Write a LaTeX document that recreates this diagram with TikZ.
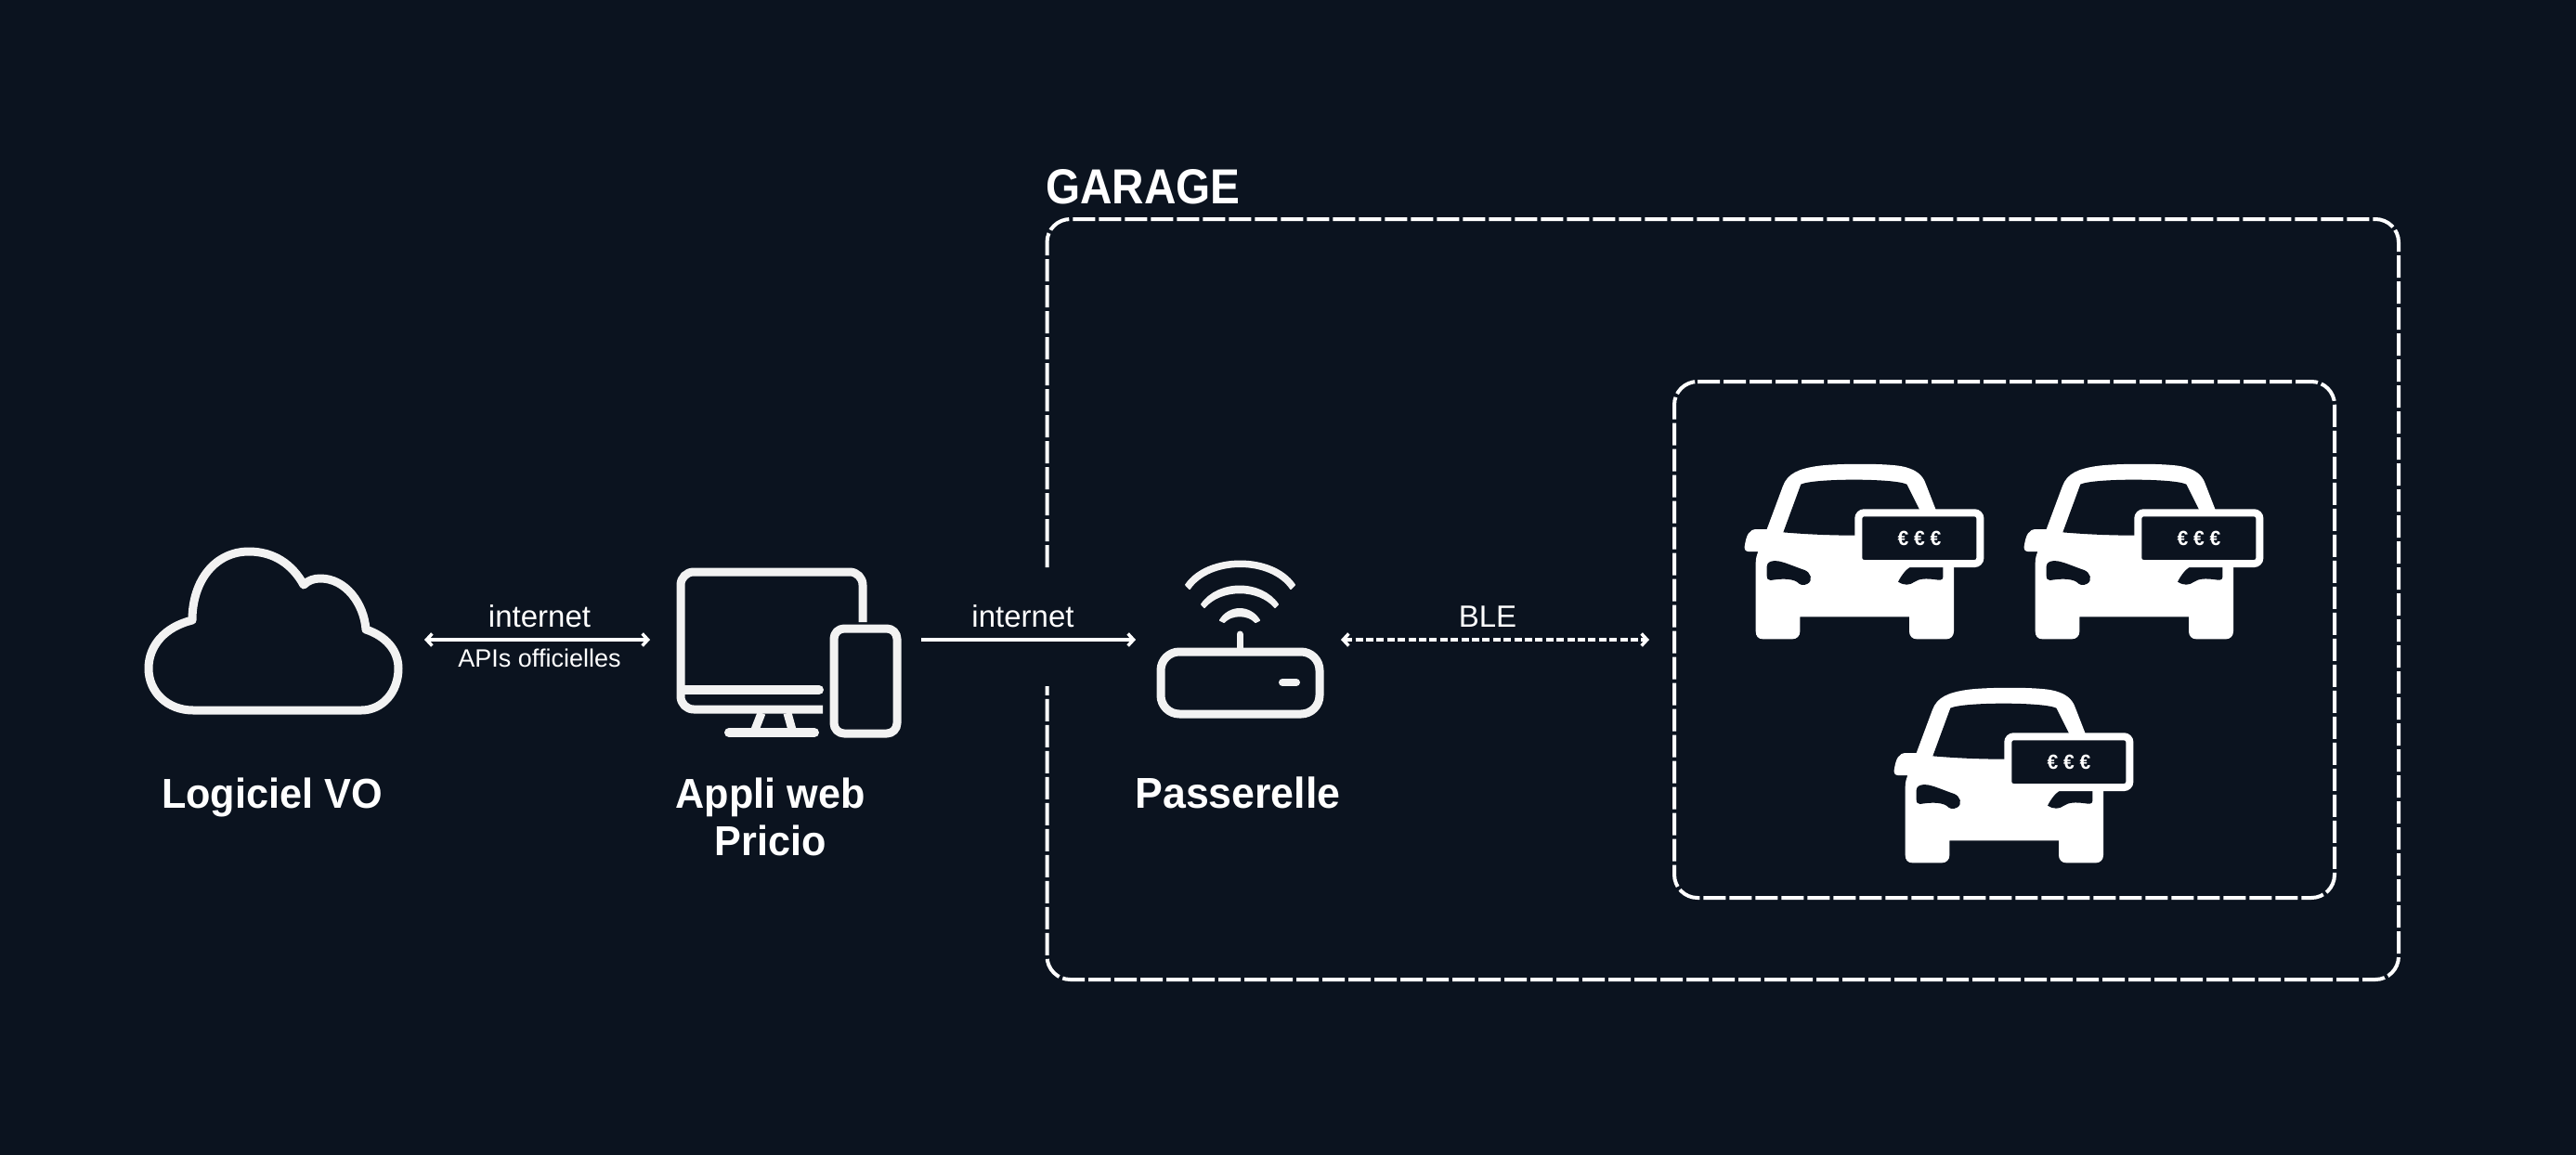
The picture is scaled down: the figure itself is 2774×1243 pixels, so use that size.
\documentclass[tikz,border=0pt]{standalone}
\usepackage{fontspec}
\usetikzlibrary{arrows.meta}
\setmainfont{Liberation Sans}
\newfontfamily\boldf[FakeStretch=0.96]{Liberation Sans Bold}
\newfontfamily\capsf[FakeStretch=0.9]{Liberation Sans Bold}
\definecolor{bgc}{HTML}{0B131F}
\definecolor{ink}{HTML}{F2F2F2}
\tikzset{
  iconline/.style={draw=ink,line width=9pt,line cap=round,line join=round,fill=none},
  iconfill/.style={draw=ink,fill=ink,line width=2pt,line join=round},
  anchorbox/.style={draw=none,inner sep=0pt,outer sep=0pt,minimum height=10pt},
  link/.style={draw=white,line width=3.5pt},
  two/.style={link,{Straight Barb[length=6pt,width=13pt,line width=3.5pt]}-{Straight Barb[length=6pt,width=13pt,line width=3.5pt]}},
  one/.style={link,-{Straight Barb[length=6pt,width=13pt,line width=3.5pt]}},
  frame/.style={draw=white,line width=4pt,dash pattern=on 24pt off 4pt,rounded corners=25pt},
  small frame/.style={frame,dash pattern=on 24pt off 4pt},
  lab/.style={text=white,inner sep=0pt,anchor=base,font=\fontsize{33}{36}\selectfont},
  lab small/.style={text=white,inner sep=0pt,anchor=base,font=\fontsize{27}{30}\selectfont},
  title/.style={text=white,inner sep=0pt,anchor=base,font=\boldf\fontsize{45}{50}\selectfont},
  car/.pic={
    \begin{scope}[x=0.33333pt,y=-0.33333pt]
    \fill[white] (152,630) -- (152,410) .. controls (152,395) and (155,385) .. (160,372) -- (128,372)
      .. controls (118,372) and (113,362) .. (117,350) .. controls (122,320) and (130,300) .. (155,300) -- (188,300)
      -- (240,160) .. controls (255,120) and (290,105) .. (350,96) .. controls (400,88) and (560,86) .. (620,96)
      .. controls (670,105) and (692,125) .. (702,155) -- (735,240) -- (792,400) -- (792,630)
      .. controls (792,645) and (782,655) .. (768,655) -- (672,655) .. controls (658,655) and (648,645) .. (648,630)
      -- (648,583) -- (295,583) -- (295,630) .. controls (295,645) and (285,655) .. (270,655) -- (175,655)
      .. controls (160,655) and (152,645) .. (152,630) -- cycle;
    \fill[bgc] (241,310) -- (298,155) .. controls (340,135) and (600,135) .. (640,155) -- (685,245) -- (600,322)
      -- (472,320) .. controls (390,320) and (310,316) .. (241,310) -- cycle;
    \fill[bgc] (188,420) .. controls (188,405) and (205,400) .. (225,403) .. controls (250,408) and (280,422) .. (310,432)
      .. controls (330,440) and (338,465) .. (320,476) .. controls (305,484) and (295,480) .. (285,470)
      .. controls (265,458) and (230,460) .. (200,465) .. controls (192,465) and (188,460) .. (188,450) -- cycle;
    \fill[bgc] (757,415) -- (757,455) .. controls (757,465) and (745,465) .. (735,463)
      .. controls (700,458) and (680,460) .. (665,470) .. controls (650,482) and (630,482) .. (612,470)
      .. controls (625,445) and (640,425) .. (665,415) -- cycle;
    \filldraw[draw=white,fill=bgc,line width=8pt,rounded corners=6pt] (484,247) rectangle (877,411);
    \node[inner sep=0pt,text=white,font=\boldf\fontsize{22}{24}\selectfont] at (681,331) {€ € €};
    \end{scope}
  }
}
\begin{document}
\begin{tikzpicture}[x=1pt,y=-1pt]
\useasboundingbox (0,0) rectangle (2774,1243);
\fill[bgc] (-3,-3) rectangle (2777,1246);

% garage frames
\draw[frame] (1127.5,611) -- (1127.5,236) -- (2583,236) -- (2583,1055) -- (1127.5,1055) -- (1127.5,739);
\draw[small frame] (1803,411) -- (2514,411) -- (2514,967) -- (1803,967) -- cycle;
\node[text=white,inner sep=0pt,anchor=base west,font=\capsf\fontsize{53}{56}\selectfont] (garage) at (1126,219) {GARAGE};

% cloud
\draw[iconline] (208,765) -- (389,765) .. controls (412,765) and (429,745) .. (429,720)
  .. controls (429,700) and (415,685) .. (394,678) .. controls (392,650) and (372,623) .. (345,623)
  .. controls (338,623) and (332,625) .. (327,630) .. controls (315,608) and (295,594) .. (268,594)
  .. controls (232,594) and (207,625) .. (207,668) .. controls (178,675) and (160,695) .. (160,720)
  .. controls (160,745) and (180,765) .. (208,765) -- cycle;

% monitor
\draw[iconline,line cap=butt,rounded corners=14pt] (929,670) -- (929,616) -- (733,616) -- (733,764) -- (886,764);
\draw[iconline,line width=10pt,line cap=round] (737,743) -- (882,743);
\draw[iconline,line width=9pt,line cap=butt] (820,768) -- (813,786) (848,768) -- (853,786);
\draw[iconline,line width=10pt] (785,789) -- (877,789);
\draw[iconline,rounded corners=11pt] (898,677) rectangle (966,790);

% router
\draw[iconline,rounded corners=20pt] (1250,702) rectangle (1421,769);
\draw[iconline,line width=7pt] (1335,683) -- (1335,700);
\draw[iconline,line width=8pt] (1381,735) -- (1396,735);
\filldraw[iconfill] (1277,630) .. controls (1300,596) and (1371,596) .. (1394,630) -- (1390,634) .. controls (1368,602) and (1303,602) .. (1281,634) -- cycle;
\filldraw[iconfill] (1294,651) .. controls (1312,625) and (1358,625) .. (1376,651) -- (1373,654) .. controls (1355,633) and (1315,633) .. (1297,654) -- cycle;
\filldraw[iconfill] (1314,668) .. controls (1324,652) and (1346,652) .. (1356,668) -- (1352,670) .. controls (1344,661) and (1326,661) .. (1318,670) -- cycle;

% cars
\pic at (1840,470) {car};
\pic at (2141,470) {car};
\pic at (2001,711) {car};

% invisible nodes spanning the icons up to where their links end
\node[anchorbox,minimum width=325pt] (cloud) at (294.5,689) {};
\node[anchorbox,minimum width=292pt] (webapp) at (846,689) {};
\node[anchorbox,minimum width=221pt] (gateway) at (1333.5,689) {};
\node[anchorbox,minimum width=765pt] (fleet) at (2158.5,689) {};

\draw[two] (cloud) -- (webapp);
\draw[one] (webapp) -- (gateway);
\draw[two,dash pattern=on 8pt off 3.4pt] (gateway) -- (fleet);

% labels
\node[lab] (l1) at (581,675) {internet};
\node[lab small] (l2) at (581,718) {APIs officielles};
\node[lab] (l3) at (1101.5,675) {internet};
\node[lab] (l4) at (1602,675) {BLE};
\node[title] (t1) at (293,870) {Logiciel VO};
\node[title] (t2) at (829.5,870) {Appli web};
\node[title] (t3) at (829.5,921) {Pricio};
\node[title,font=\boldf\fontsize{46.5}{50}\selectfont] (t4) at (1333,870) {Passerelle};
\end{tikzpicture}
\end{document}
